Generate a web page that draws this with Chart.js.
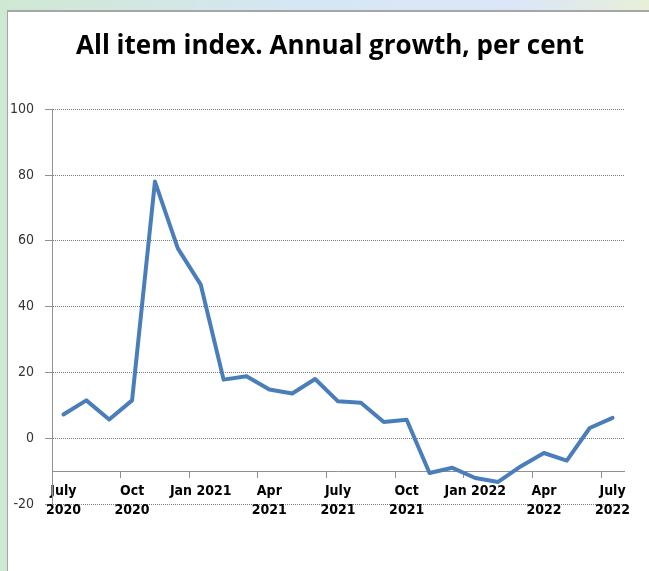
<!DOCTYPE html>
<html>
<head>
<meta charset="utf-8">
<script src="https://cdn.jsdelivr.net/npm/chart.js@4/dist/chart.umd.min.js"></script>
<style>
  html, body { margin: 0; padding: 0; }
  body {
    width: 649px; height: 571px; overflow: hidden;
    background: linear-gradient(90deg, #cfe8d2 0%, #d6e6f3 45%, #dbe7f8 80%, #e8efd8 100%);
  }
  #panel {
    position: absolute; left: 7px; top: 10px; right: 0; bottom: 0;
    background: #fff;
    border-top: 2px solid #a6a6a6;
    border-left: 1px solid #a6a6a6;
  }
  #wrap { position: absolute; left: 0; top: 0; width: 641px; height: 559px; }
</style>
</head>
<body>
<div id="panel"><div id="wrap"><canvas id="cpi"></canvas></div></div>
<script>
// monthly observations, July 2020 .. July 2022
const months = [
  'Jul 2020', 'Aug 2020', 'Sep 2020', 'Oct 2020', 'Nov 2020', 'Dec 2020',
  'Jan 2021', 'Feb 2021', 'Mar 2021', 'Apr 2021', 'May 2021', 'Jun 2021',
  'Jul 2021', 'Aug 2021', 'Sep 2021', 'Oct 2021', 'Nov 2021', 'Dec 2021',
  'Jan 2022', 'Feb 2022', 'Mar 2022', 'Apr 2022', 'May 2022', 'Jun 2022',
  'Jul 2022'
];
const growth = [
  7.2, 11.5, 5.7, 11.5, 78.0, 57.7,
  46.7, 17.8, 18.8, 14.8, 13.6, 18.0,
  11.2, 10.8, 4.9, 5.6, -10.6, -9.0,
  -12.1, -13.3, -8.5, -4.5, -6.8, 3.1,
  6.2
];
// one label every third month
const tickLabels = [
  ['July', '2020'], ['Oct', '2020'], 'Jan 2021', ['Apr', '2021'], ['July', '2021'],
  ['Oct', '2021'], 'Jan 2022', ['Apr', '2022'], ['July', '2022']
];
const labelEvery = 3;
const yTicks = [-20, 0, 20, 40, 60, 80, 100];
const axisCross = -10;

const axisGray = '#909090';

// the title sits a bit right of the plot centre in the original
const shiftTitle = {
  id: 'shiftTitle',
  afterLayout(chart) {
    if (chart.titleBlock) chart.titleBlock.left = 28;
  }
};

new Chart(document.getElementById('cpi'), {
  type: 'line',
  data: {
    labels: months,
    datasets: [{
      label: 'All item index',
      data: growth,
      borderColor: '#4a7ebb',
      borderWidth: 4,
      pointRadius: 0,
      tension: 0,
      borderCapStyle: 'round',
      borderJoinStyle: 'round'
    }]
  },
  plugins: [shiftTitle],
  options: {
    responsive: true,
    maintainAspectRatio: false,
    animation: false,
    layout: { padding: { left: 0, right: 25, top: 0, bottom: 67 } },
    plugins: {
      legend: { display: false },
      tooltip: { enabled: false },
      title: {
        display: true,
        text: 'All item index. Annual growth, per cent',
        color: '#000',
        font: { family: '"Open Sans"', size: 26, weight: 'bold' },
        padding: { top: 19, bottom: 47 }
      }
    },
    scales: {
      x: {
        position: { y: axisCross },
        offset: true,
        afterFit: (s) => { s.height = 68; },
        grid: {
          offset: true,
          drawOnChartArea: false,
          drawTicks: true,
          tickLength: 6,
          tickColor: (ctx) => (ctx.index % labelEvery === 0 && ctx.index < months.length) ? axisGray : 'rgba(0,0,0,0)'
        },
        border: { display: true, color: axisGray, width: 1 },
        ticks: {
          autoSkip: false,
          maxRotation: 0,
          padding: 5,
          color: '#000',
          font: { family: '"DejaVu Sans Condensed"', size: 14, weight: 'bold', lineHeight: 1.35 },
          callback: (v, i) => i % labelEvery === 0 ? tickLabels[i / labelEvery] : ''
        }
      },
      y: {
        min: yTicks[0],
        max: yTicks[yTicks.length - 1],
        afterFit: (s) => { s.width = 44; },
        afterBuildTicks: (s) => { s.ticks = yTicks.map(v => ({ value: v })); },
        grid: {
          color: '#7a7a7a',
          tickLength: 7,
          tickColor: axisGray,
          tickBorderDash: []
        },
        border: { display: true, color: axisGray, width: 1, dash: [1, 1] },
        ticks: {
          padding: 11,
          color: '#333',
          font: { family: '"DejaVu Sans Condensed"', size: 14 }
        }
      }
    }
  }
});
</script>
</body>
</html>
